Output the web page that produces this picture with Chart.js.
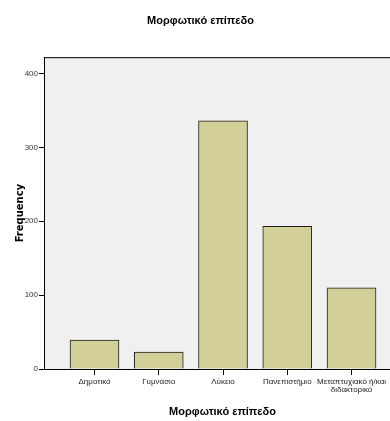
<!DOCTYPE html>
<html>
<head>
<meta charset="utf-8">
<script src="https://cdn.jsdelivr.net/npm/chart.js@4/dist/chart.umd.min.js"></script>
<style>
  html, body { margin: 0; padding: 0; background: #fff; overflow: hidden; }
</style>
</head>
<body>
<canvas id="barChart" width="406" height="421"></canvas>
<script>
  const chartTitle = 'Μορφωτικό επίπεδο';
  const categories = [
    ['Δημοτικό'],
    ['Γυμνάσιο'],
    ['Λύκειο'],
    ['Πανεπιστήμιο'],
    ['Μεταπτυχιακό ή/και', 'διδακτορικό']
  ];
  const frequency = [39, 23, 336, 193, 110];
  const yTicks = [0, 100, 200, 300, 400];

  // grey plot background + top frame line, like the SPSS output
  const plotFrame = {
    id: 'plotFrame',
    beforeDraw(chart) {
      const { ctx, chartArea } = chart;
      ctx.save();
      ctx.fillStyle = '#f0f0f0';
      ctx.fillRect(chartArea.left, chartArea.top, chartArea.right - chartArea.left, chartArea.bottom - chartArea.top);
      ctx.strokeStyle = '#000';
      ctx.lineWidth = 1;
      ctx.beginPath();
      ctx.moveTo(chartArea.left, chartArea.top + 0.5);
      ctx.lineTo(chartArea.right, chartArea.top + 0.5);
      ctx.stroke();
      ctx.restore();
    }
  };

  const ctx = document.getElementById('barChart');
  new Chart(ctx, {
    type: 'bar',
    data: {
      datasets: [{
        label: 'Frequency',
        data: frequency.map((v, i) => ({ x: i, y: v })),
        backgroundColor: '#d3cf98',
        borderColor: '#1e1e1e',
        borderWidth: 1,
        borderSkipped: 'bottom',
        barThickness: 49
      }]
    },
    plugins: [plotFrame],
    options: {
      responsive: false,
      animation: false,
      layout: { padding: { left: 0, right: 5, top: 0, bottom: 0 } },
      plugins: {
        legend: { display: false },
        tooltip: { enabled: false },
        title: {
          display: true,
          text: chartTitle,
          color: '#000',
          font: { family: 'Liberation Sans', size: 11, weight: 'bold', lineHeight: 1.2 },
          padding: { top: 14, bottom: 30 }
        }
      },
      scales: {
        x: {
          type: 'linear',
          offset: false,
          min: -0.786,
          max: 4.77,
          afterBuildTicks: (scale) => {
            scale.ticks = categories.map((c, i) => ({ value: i }));
          },
          afterFit: (scale) => { scale.height = 52; },
          grid: {
            offset: false,
            drawOnChartArea: false,
            drawTicks: true,
            tickLength: 6,
            color: '#000'
          },
          border: { display: true, color: '#000' },
          ticks: {
            autoSkip: false,
            maxRotation: 0,
            padding: 2,
            color: '#222',
            font: { family: 'Liberation Sans', size: 8, lineHeight: 1.1 },
            callback: (value) => categories[value]
          },
          title: {
            display: true,
            text: chartTitle,
            color: '#000',
            font: { family: 'Liberation Sans', size: 11, weight: 'bold', lineHeight: 1.2 },
            padding: { top: 0, bottom: 2 }
          }
        },
        y: {
          min: 0,
          max: 422,
          afterBuildTicks: (scale) => {
            scale.ticks = yTicks.map(v => ({ value: v }));
          },
          afterFit: (scale) => { scale.width = 44; },
          grid: {
            drawOnChartArea: false,
            drawTicks: true,
            tickLength: 5,
            color: '#000'
          },
          border: { display: true, color: '#000' },
          ticks: {
            padding: 1,
            color: '#333',
            font: { family: 'Liberation Sans', size: 8 }
          },
          title: {
            display: true,
            text: 'Frequency',
            color: '#000',
            font: { family: 'DejaVu Sans', size: 10, weight: 'bold', lineHeight: 1.2 },
            padding: { top: 14, bottom: 0 }
          }
        }
      }
    }
  });
</script>
</body>
</html>
